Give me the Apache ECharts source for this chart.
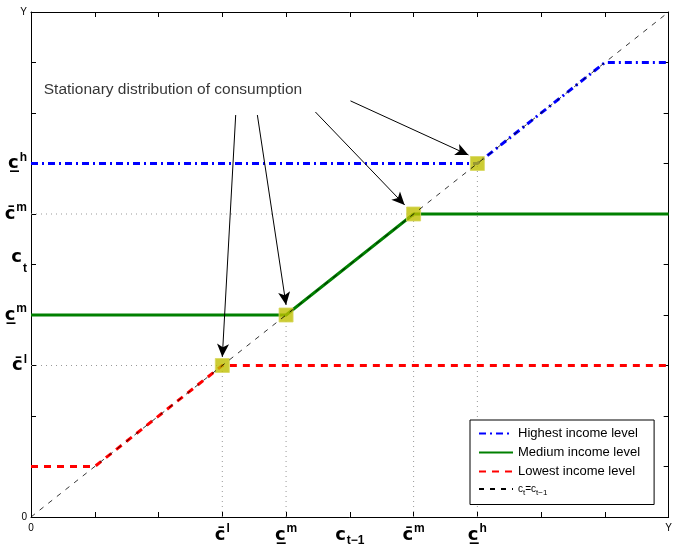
<!DOCTYPE html>
<html><head><meta charset="utf-8">
<script src="https://cdn.jsdelivr.net/npm/echarts@6/dist/echarts.min.js"></script>
<style>html,body{margin:0;padding:0;background:#fff}#c{width:675px;height:554px}</style>
</head><body><div id="c"></div>
<script>
// ---- data ----
var highX = [0, 7, 9, 10], highY = [7, 7, 9, 9];
var medX  = [0, 4, 6, 10], medY  = [4, 4, 6, 6];
var lowX  = [0, 1, 3, 10], lowY  = [1, 1, 3, 3];
var diagX = [0, 10], diagY = [0, 10];
var stationaryX = [3, 4, 6, 7], stationaryY = [3, 4, 6, 7];
// dotted guide lines: vertical drops from stationary points, horizontal at c̄ levels
var vGuideX = [3, 4, 6, 7], vGuideTop = [3, 4, 6, 7];
var hGuideY = [3, 6], hGuideRight = [3, 6];
var xTickLabels = {0: '{p|0}', 3: '{b|c\u0304}{sup|l}', 4: '{b|c\u0332}{sup|m}', 5: '{b|c}{sub|t\u22121}', 6: '{b|c\u0304}{sup|m}', 7: '{b|c\u0332}{sup|h}', 10: '{p|Y}'};
var yTickLabels = {0: '{p|0}', 3: '{b|c\u0304}{sup|l}', 4: '{b|c\u0332}{sup|m}', 5: '{bt|c}{subt|t}', 6: '{b|c\u0304}{sup|m}', 7: '{b|c\u0332}{sup|h}', 10: '{p|Y}'};
var legendNames = ['Highest income level', 'Medium income level', 'Lowest income level', 'ct=ct-1'];
var annotationText = 'Stationary distribution of consumption';
// arrows from annotation to stationary points [x0,y0,x1,y1]
var arrows = [[3.21, 7.96, 3.0, 3.17], [3.55, 7.96, 4.0, 4.2], [4.46, 8.02, 5.86, 6.18], [5.01, 8.24, 6.86, 7.17]];

function zip(a, b) { return a.map(function (v, i) { return [v, b[i]]; }); }

var FF = 'Liberation Sans, Arial, sans-serif';
var rich = {
  b: {fontSize: 18, fontWeight: 'bold', fontFamily: 'DejaVu Sans', color: '#000'},
  sup: {fontSize: 12, fontWeight: 'bold', fontFamily: FF, color: '#000', padding: [0, 0, 12, 1]},
  sub: {fontSize: 12, fontWeight: 'bold', fontFamily: FF, color: '#000', padding: [12, 0, 0, 1]},
  bt: {fontSize: 18, fontWeight: 'bold', fontFamily: 'DejaVu Sans', color: '#000', padding: [0, 0, 14, 0]},
  subt: {fontSize: 12, fontWeight: 'bold', fontFamily: FF, color: '#000', padding: [8, 0, 0, 1]},
  p: {fontSize: 10, fontFamily: FF, color: '#000'}
};

var guideData = [];
vGuideX.forEach(function (x, i) { guideData.push([x, 0], [x, vGuideTop[i]], [null, null]); });
hGuideY.forEach(function (y, i) { guideData.push([0, y], [hGuideRight[i], y], [null, null]); });

var axisCommon = {
  type: 'value', min: 0, max: 10, interval: 1,
  axisLine: {show: true, onZero: false, lineStyle: {color: '#000', width: 1}},
  axisTick: {show: true, inside: true, length: 5, lineStyle: {color: '#000'}},
  splitLine: {show: false}
};

var option = {
  animation: false,
  backgroundColor: '#fff',
  grid: {left: 31, right: 5, top: 12, bottom: 37, containLabel: false},
  xAxis: [
    Object.assign({}, axisCommon, {position: 'bottom', axisLabel: {show: true, margin: 6, rich: rich,
      formatter: function (v) { return xTickLabels[v] || ''; }}}),
    Object.assign({}, axisCommon, {position: 'top', axisLabel: {show: false}})
  ],
  yAxis: [
    Object.assign({}, axisCommon, {position: 'left', axisLabel: {show: true, margin: 4, rich: rich,
      formatter: function (v) { return yTickLabels[v] || ''; }}}),
    Object.assign({}, axisCommon, {position: 'right', axisLabel: {show: false}})
  ],
  legend: {
    orient: 'vertical', left: 470, top: 420,
    backgroundColor: '#fff', borderColor: '#000', borderWidth: 1, borderRadius: 0,
    padding: [7, 14, 8, 8], itemGap: 6, itemWidth: 34, itemHeight: 12,
    itemStyle: {opacity: 0, borderWidth: 0},
    textStyle: {fontFamily: FF, fontSize: 13, color: '#000',
      rich: {s: {fontSize: 10, fontFamily: FF, color: '#000'}, ss: {fontSize: 8, fontFamily: FF, color: '#000', padding: [7, 0, 0, 0]}}},
    formatter: function (n) {
      if (n === 'ct=ct-1') return '{s|c}{ss|t}{s|=c}{ss|t\u22121}';
      return n;
    },
    data: legendNames
  },
  series: [
    {type: 'line', name: 'guides', data: guideData, symbol: 'none', connectNulls: false, silent: true,
      lineStyle: {color: '#999', width: 1, type: [1, 4]}, z: 1},
    {type: 'line', name: legendNames[0], data: zip(highX, highY), symbol: 'none',
      lineStyle: {color: '#0000ff', width: 3, type: [7, 4, 2, 4]}, itemStyle: {color: '#0000ff'}, z: 2},
    {type: 'line', name: legendNames[1], data: zip(medX, medY), symbol: 'none',
      lineStyle: {color: '#008000', width: 3, type: 'solid'}, itemStyle: {color: '#008000'}, z: 2},
    {type: 'line', name: legendNames[2], data: zip(lowX, lowY), symbol: 'none',
      lineStyle: {color: '#ff0000', width: 3, type: [7, 6]}, itemStyle: {color: '#ff0000'}, z: 2},
    {type: 'scatter', name: 'stationary', data: zip(stationaryX, stationaryY), symbol: 'rect', symbolSize: 14,
      itemStyle: {color: '#bfbf00', borderColor: '#d8d860', borderWidth: 1}, z: 3},
    {type: 'line', name: legendNames[3], data: zip(diagX, diagY), symbol: 'none',
      lineStyle: {color: '#000', width: 0.8, type: [5, 6]}, itemStyle: {color: '#000'}, z: 4},
    {type: 'scatter', name: 'annot', data: [[0.2, 8.46]], symbolSize: 0, silent: true, z: 5,
      label: {show: true, position: 'right', distance: 0, formatter: annotationText, fontFamily: FF, fontSize: 15.5, color: '#000'},
      markLine: {silent: true, symbol: ['none', 'arrow'], symbolSize: [9, 13], animation: false,
        lineStyle: {color: '#000', width: 1, type: 'solid'}, label: {show: false},
        data: arrows.map(function (a) { return [{coord: [a[0], a[1]]}, {coord: [a[2], a[3]]}]; })}}
  ]
};
var chart = echarts.init(document.getElementById('c'), null, {renderer: 'canvas'});
chart.setOption(option);
</script></body></html>
